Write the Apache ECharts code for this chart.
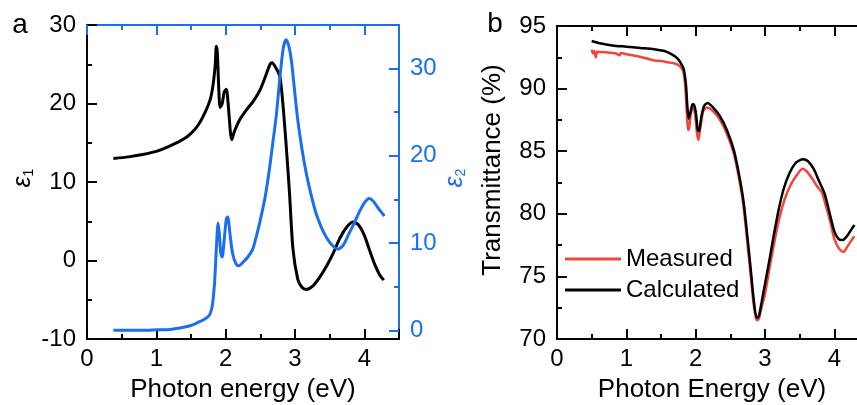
<!DOCTYPE html>
<html>
<head>
<meta charset="utf-8">
<script src="https://cdn.jsdelivr.net/npm/echarts@6/dist/echarts.min.js"></script>
<style>
  html, body { margin: 0; padding: 0; background: #fff; }
  .panel { position: absolute; top: 0; height: 405px; }
  #chartA, #chartA2 { left: 0; width: 470px; }
  #chartB { left: 430px; width: 427px; }
</style>
</head>
<body>
<div id="chartA" class="panel"></div>
<div id="chartA2" class="panel"></div>
<div id="chartB" class="panel"></div>
<script>
// panel a: dielectric function
const eps1E = [0.38, 0.6, 0.8, 1.0, 1.2, 1.4, 1.5, 1.6, 1.7, 1.78, 1.82, 1.85, 1.865, 1.88, 1.9, 1.92, 1.95, 1.98, 2.01, 2.04, 2.07, 2.09, 2.12, 2.2, 2.3, 2.4, 2.5, 2.58, 2.64, 2.67, 2.72, 2.78, 2.82, 2.87, 2.92, 2.97, 3.04, 3.1, 3.16, 3.25, 3.35, 3.45, 3.55, 3.65, 3.75, 3.84, 3.92, 4.0, 4.08, 4.15, 4.22, 4.28];
const eps1V = [13.0, 13.2, 13.5, 13.9, 14.6, 15.5, 16.2, 17.2, 18.8, 20.6, 22.5, 25.0, 27.3, 26.5, 22.0, 19.5, 20.0, 21.5, 21.8, 19.5, 16.2, 15.4, 16.3, 17.9, 19.2, 20.3, 21.8, 23.6, 25.0, 25.2, 24.6, 23.5, 20.5, 15.0, 8.7, 1.5, -2.4, -3.4, -3.7, -3.3, -2.2, -0.8, 0.9, 2.9, 4.3, 4.9, 4.5, 3.2, 1.2, -0.5, -1.8, -2.5];

const eps2E = [0.38, 0.8, 1.0, 1.2, 1.34, 1.5, 1.6, 1.7, 1.77, 1.81, 1.84, 1.86, 1.88, 1.89, 1.91, 1.93, 1.95, 1.98, 2.01, 2.03, 2.06, 2.1, 2.15, 2.19, 2.25, 2.32, 2.39, 2.45, 2.51, 2.57, 2.63, 2.68, 2.73, 2.78, 2.83, 2.87, 2.91, 2.95, 3.0, 3.04, 3.1, 3.16, 3.23, 3.3, 3.38, 3.45, 3.53, 3.62, 3.7, 3.78, 3.86, 3.93, 4.0, 4.07, 4.13, 4.2, 4.29];
const eps2V = [0, 0, 0.05, 0.1, 0.25, 0.55, 0.9, 1.3, 1.8, 3.0, 5.5, 8.5, 11.5, 12.3, 11.0, 8.8, 8.4, 10.5, 12.8, 13.0, 11.2, 8.8, 7.6, 7.4, 7.8, 8.4, 9.3, 11.0, 13.0, 15.3, 18.4, 21.5, 24.6, 28.8, 32.3, 33.3, 32.6, 30.8, 27.0, 24.1, 20.8, 18.1, 15.6, 13.5, 11.8, 10.7, 9.8, 9.3, 9.8, 11.1, 12.4, 13.6, 14.6, 15.1, 14.8, 14.0, 13.1];

// panel b: transmittance
const calcE = [0.5, 0.6, 0.8, 1.0, 1.2, 1.4, 1.55, 1.65, 1.73, 1.79, 1.83, 1.86, 1.88, 1.9, 1.92, 1.95, 1.97, 2.0, 2.03, 2.05, 2.08, 2.12, 2.17, 2.25, 2.35, 2.45, 2.55, 2.63, 2.69, 2.74, 2.79, 2.84, 2.88, 2.91, 2.95, 3.0, 3.07, 3.13, 3.2, 3.27, 3.35, 3.45, 3.55, 3.62, 3.7, 3.78, 3.86, 3.93, 4.0, 4.06, 4.12, 4.18, 4.24, 4.29];
const calcT = [93.8, 93.65, 93.45, 93.35, 93.25, 93.15, 93.0, 92.75, 92.45, 92.0, 91.5, 90.3, 88.6, 87.6, 88.0, 88.7, 88.75, 88.2, 86.7, 86.6, 87.7, 88.6, 88.85, 88.5, 87.8, 86.7, 85.1, 83.0, 81.0, 78.5, 75.8, 73.0, 71.7, 71.8, 72.9, 74.4, 76.5, 78.4, 80.4, 82.0, 83.2, 84.1, 84.35, 84.2, 83.6, 82.6, 81.6, 80.1, 78.6, 78.0, 77.9, 78.2, 78.7, 79.1];

const measE = [0.5, 0.52, 0.54, 0.56, 0.58, 0.7, 0.85, 0.9, 0.92, 1.0, 1.15, 1.3, 1.4, 1.5, 1.6, 1.7, 1.77, 1.82, 1.85, 1.87, 1.89, 1.905, 1.93, 1.96, 1.99, 2.02, 2.04, 2.07, 2.11, 2.16, 2.25, 2.35, 2.45, 2.55, 2.63, 2.69, 2.74, 2.79, 2.84, 2.88, 2.91, 2.95, 3.0, 3.07, 3.13, 3.2, 3.28, 3.37, 3.46, 3.54, 3.6, 3.67, 3.75, 3.82, 3.88, 3.94, 4.0, 4.07, 4.13, 4.19, 4.25, 4.29];
const measT = [93.1, 92.8, 93.0, 92.5, 92.95, 92.9, 92.8, 92.65, 92.85, 92.75, 92.6, 92.4, 92.25, 92.2, 92.1, 92.0, 91.8, 91.4, 90.2, 88.3, 86.7, 86.8, 88.0, 88.5, 88.0, 86.4, 85.9, 87.0, 88.2, 88.5, 88.2, 87.5, 86.4, 84.8, 82.7, 80.6, 78.0, 75.3, 72.6, 71.5, 71.6, 72.5, 73.6, 75.8, 77.6, 79.5, 81.1, 82.3, 83.1, 83.6, 83.4, 82.9, 82.2, 81.7, 80.6, 79.4, 78.0, 77.2, 76.95, 77.4, 77.9, 78.2];

const FONT = 'Liberation Sans';
const BLUE = '#1a6ff0';
const RED = '#f2463b';
// near-identical shades so no two axis strokes share exactly the same style
const K = ['#000000', '#010101', '#020202', '#030303', '#040404', '#050505', '#060606', '#070707', '#080808'];
const B = ['#1a6ff0', '#1a6ff1', '#1b6ff0', '#1a70f0', '#1b70f1'];

// eps2 axis spans -1..35; its ticks 0..30 come from an overlay chart
const EPS2_MIN = -1, EPS2_MAX = 35;
const GA = { left: 87, top: 25, width: 312, height: 314 };
const pxPerEps2 = GA.height / (EPS2_MAX - EPS2_MIN);

function pairs(xs, ys) { return xs.map((x, i) => [x, ys[i]]); }

// each axis does one job: labels, frame line, or one tick length
function axLabels(dim, pos, min, max, interval, color) {
  return {
    type: 'value', gridIndex: 0, position: pos, min: min, max: max, interval: interval,
    axisLine: { show: false, onZero: false }, axisTick: { show: false }, splitLine: { show: false },
    axisLabel: { show: true, margin: dim === 'x' ? 8 : 11, fontSize: 24, fontFamily: FONT, color: color,
      formatter: v => (dim === 'x' && v % 1 !== 0 ? '' : String(v)) }
  };
}
function axLine(pos, min, max, color) {
  return {
    type: 'value', gridIndex: 0, position: pos, min: min, max: max,
    axisLine: { show: true, onZero: false, lineStyle: { color: color, width: 2 } },
    axisTick: { show: false }, axisLabel: { show: false }, splitLine: { show: false }
  };
}
function axTicks(pos, min, max, interval, len, color) {
  return {
    type: 'value', gridIndex: 0, position: pos, min: min, max: max, interval: interval,
    axisLine: { show: false, onZero: false },
    axisTick: { show: true, inside: true, length: len, lineStyle: { color: color, width: 2 } },
    axisLabel: { show: false }, splitLine: { show: false }
  };
}
function xSet(top) {
  // bottom black frame with labels, top frame in the given shades
  return [
    axLabels('x', 'bottom', 0, 4.5, 1, '#000'),
    axLine('bottom', 0, 4.5, K[0]),
    axTicks('bottom', 0, 4.5, 1, 10, K[1]),
    axTicks('bottom', 0, 4.5, 0.5, 5, K[2]),
    axLine('top', 0, 4.5, top[0]),
    axTicks('top', 0, 4.5, 1, 10, top[1]),
    axTicks('top', 0, 4.5, 0.5, 5, top[2])
  ];
}
function txt(x, y, text, size, color, rot, rich) {
  const el = { type: 'text', x: x, y: y, rotation: rot || 0,
    style: { text: text, fontSize: size, fontFamily: FONT, fill: color, align: 'center', verticalAlign: 'middle' } };
  if (rich) el.style.rich = rich;
  return el;
}
function epsRich(color) {
  return {
    e: { fontSize: 25, fontStyle: 'italic', fontFamily: FONT, fill: color, lineHeight: 26 },
    s: { fontSize: 14, fontFamily: FONT, fill: color, verticalAlign: 'bottom', lineHeight: 14 }
  };
}

// ---- panel a ----
const optionA = {
  animation: false,
  backgroundColor: 'transparent',
  grid: [Object.assign({ outerBoundsMode: 'none', show: true, borderColor: B[4], borderWidth: 2,
    backgroundColor: 'transparent' }, GA)],
  xAxis: xSet([B[0], B[1], B[2]]),
  yAxis: [
    axLabels('y', 'left', -10, 30, 10, '#000'),
    axLine('left', -10, 30, K[6]),
    axTicks('left', -10, 30, 10, 10, K[7]),
    axTicks('left', -10, 30, 5, 5, K[8]),
    axLine('right', EPS2_MIN, EPS2_MAX, B[3])
  ],
  graphic: [
    txt(20, 25, 'a', 28, '#000'),
    txt(243, 390, 'Photon energy (eV)', 26, '#000'),
    txt(23, 178, '{e|ε}{s|1}', 25, '#000', Math.PI / 2, epsRich('#000')),
    txt(455, 178, '{e|ε}{s|2}', 25, BLUE, Math.PI / 2, epsRich(BLUE))
  ],
  series: [
    { name: 'eps1', type: 'line', xAxisIndex: 0, yAxisIndex: 0, data: pairs(eps1E, eps1V),
      showSymbol: false, smooth: 0.25, lineStyle: { color: '#000', width: 3 }, itemStyle: { color: '#000' } },
    { name: 'eps2', type: 'line', xAxisIndex: 0, yAxisIndex: 4, data: pairs(eps2E, eps2V),
      showSymbol: false, smooth: 0.25, lineStyle: { color: BLUE, width: 3 }, itemStyle: { color: BLUE } }
  ]
};

// overlay: eps2 ticks and labels over the 0..30 span of the right axis
const optionA2 = {
  animation: false,
  backgroundColor: 'transparent',
  grid: [{ left: GA.left, top: GA.top + (EPS2_MAX - 30) * pxPerEps2, width: GA.width,
    height: 30 * pxPerEps2, outerBoundsMode: 'none' }],
  xAxis: [{ type: 'value', gridIndex: 0, min: 0, max: 4.5, show: false }],
  yAxis: [
    axLabels('y', 'right', 0, 30, 10, BLUE),
    axTicks('right', 0, 30, 10, 10, B[1]),
    axTicks('right', 0, 30, 5, 5, B[2])
  ]
};

// ---- panel b ----
const optionB = {
  animation: false,
  backgroundColor: 'transparent',
  grid: [{ left: 127, top: 26, width: 312, height: 313, outerBoundsMode: 'none',
    show: true, borderColor: K[5], borderWidth: 2, backgroundColor: 'transparent' }],
  xAxis: xSet([K[3], K[4], K[5]]),
  yAxis: [
    axLabels('y', 'left', 70, 95, 5, '#000'),
    axLine('left', 70, 95, K[6]),
    axTicks('left', 70, 95, 5, 10, K[7]),
    axTicks('left', 70, 95, 2.5, 5, K[8])
  ],
  legend: {
    left: 135, top: 247, padding: 0, orient: 'vertical', icon: 'rect',
    itemWidth: 56, itemHeight: 3, itemGap: 7,
    textStyle: { fontSize: 24, fontFamily: FONT, color: '#000', lineHeight: 24 },
    data: ['Measured', 'Calculated']
  },
  graphic: [
    txt(65, 24, 'b', 28, '#000'),
    txt(282, 390, 'Photon Energy (eV)', 26, '#000'),
    txt(63, 170, 'Transmittance (%)', 26, '#000', Math.PI / 2)
  ],
  series: [
    { name: 'Measured', type: 'line', xAxisIndex: 0, yAxisIndex: 0, data: pairs(measE, measT),
      showSymbol: false, smooth: 0.25, lineStyle: { color: RED, width: 2.5 }, itemStyle: { color: RED } },
    { name: 'Calculated', type: 'line', xAxisIndex: 0, yAxisIndex: 0, data: pairs(calcE, calcT),
      showSymbol: false, smooth: 0.25, lineStyle: { color: '#000', width: 2.5 }, itemStyle: { color: '#000' } }
  ]
};

echarts.init(document.getElementById('chartA')).setOption(optionA);
echarts.init(document.getElementById('chartA2')).setOption(optionA2);
echarts.init(document.getElementById('chartB')).setOption(optionB);
</script>
</body>
</html>
